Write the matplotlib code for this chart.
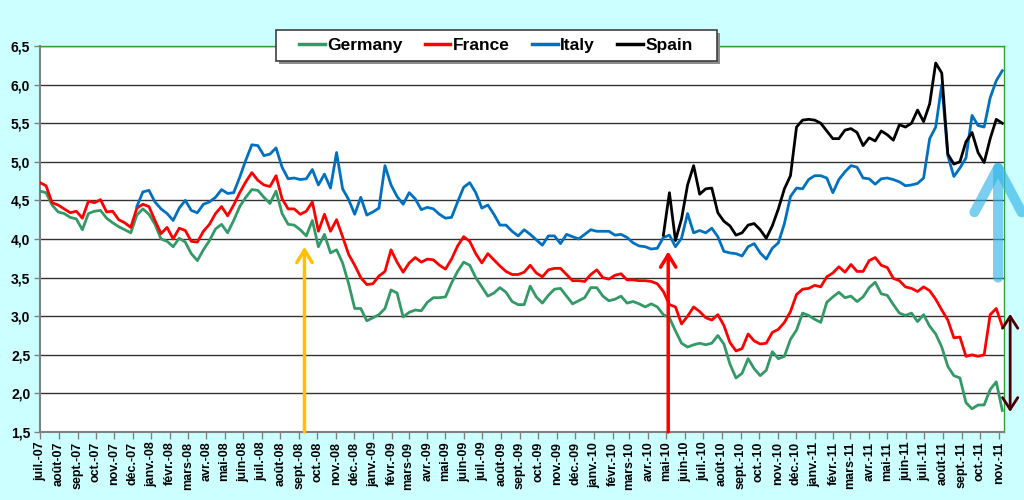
"""
10-year government bond yields: Germany, France, Italy and Spain, July 2007 - November 2011.
"""

import matplotlib
matplotlib.use("Agg")
import matplotlib.pyplot as plt
import matplotlib.dates as mdates
from matplotlib.lines import Line2D
from matplotlib.patches import Rectangle
import pandas as pd

OUTPUT_PATH = "out.png"

# one reading every 10 days, starting 1 July 2007
dates = pd.date_range("2007-07-01", periods=160, freq="10D")
ITALY_START = 16   # Italy series begins early Dec 2007
SPAIN_START = 103  # Spain series begins early May 2010

germany = [
    4.62, 4.60, 4.44, 4.35, 4.33, 4.28, 4.26, 4.12, 4.33, 4.36,
    4.37, 4.27, 4.21, 4.16, 4.12, 4.08, 4.31, 4.39, 4.32, 4.19,
    4.00, 3.97, 3.90, 4.01, 3.96, 3.81, 3.72, 3.86, 3.98, 4.13,
    4.19, 4.08, 4.24, 4.42, 4.54, 4.64, 4.63, 4.54, 4.46, 4.62,
    4.33, 4.19, 4.18, 4.12, 4.04, 4.24, 3.90, 4.06, 3.82, 3.86,
    3.69, 3.42, 3.10, 3.10, 2.94, 2.98, 3.02, 3.10, 3.34, 3.30,
    2.99, 3.05, 3.08, 3.07, 3.18, 3.24, 3.24, 3.25, 3.43, 3.58,
    3.70, 3.66, 3.50, 3.38, 3.26, 3.30, 3.37, 3.31, 3.19, 3.15,
    3.15, 3.39, 3.25, 3.17, 3.27, 3.35, 3.36, 3.26, 3.16, 3.20,
    3.24, 3.37, 3.37, 3.26, 3.20, 3.22, 3.26, 3.17, 3.19, 3.16,
    3.12, 3.16, 3.12, 3.02, 2.98, 2.81, 2.65, 2.60, 2.63, 2.65,
    2.63, 2.65, 2.75, 2.64, 2.38, 2.20, 2.26, 2.45, 2.32, 2.23,
    2.30, 2.54, 2.45, 2.48, 2.70, 2.82, 3.04, 3.01, 2.96, 2.92,
    3.18, 3.25, 3.31, 3.24, 3.26, 3.19, 3.25, 3.37, 3.44, 3.29,
    3.27, 3.15, 3.04, 3.01, 3.04, 2.93, 3.02, 2.87, 2.77, 2.60,
    2.35, 2.23, 2.20, 1.88, 1.80, 1.85, 1.85, 2.05, 2.15, 1.78,
]

france = [
    4.73, 4.69, 4.47, 4.44, 4.39, 4.34, 4.36, 4.27, 4.49, 4.47,
    4.51, 4.35, 4.36, 4.25, 4.21, 4.15, 4.40, 4.45, 4.42, 4.24,
    4.07, 4.15, 4.00, 4.14, 4.11, 3.97, 3.96, 4.10, 4.19, 4.33,
    4.42, 4.30, 4.44, 4.60, 4.74, 4.86, 4.76, 4.70, 4.68, 4.82,
    4.52, 4.39, 4.39, 4.32, 4.36, 4.48, 4.10, 4.32, 4.10, 4.25,
    4.03, 3.80, 3.66, 3.50, 3.41, 3.42, 3.52, 3.58, 3.86, 3.70,
    3.57, 3.69, 3.76, 3.70, 3.74, 3.73, 3.66, 3.61, 3.74, 3.91,
    4.03, 3.97, 3.81, 3.69, 3.81, 3.73, 3.65, 3.58, 3.54, 3.54,
    3.57, 3.66, 3.56, 3.51, 3.60, 3.62, 3.62, 3.54, 3.46, 3.46,
    3.45, 3.54, 3.60, 3.50, 3.48, 3.53, 3.55, 3.47, 3.47, 3.46,
    3.46, 3.45, 3.42, 3.32, 3.15, 3.12, 2.90, 3.00, 3.12, 3.06,
    2.98, 2.95, 3.02, 2.88, 2.66, 2.55, 2.58, 2.77, 2.68, 2.64,
    2.65, 2.79, 2.83, 2.92, 3.06, 3.28, 3.35, 3.36, 3.40, 3.38,
    3.51, 3.56, 3.64, 3.57, 3.67, 3.58, 3.58, 3.72, 3.76, 3.66,
    3.63, 3.49, 3.46, 3.38, 3.36, 3.32, 3.38, 3.33, 3.22, 3.08,
    2.95, 2.72, 2.73, 2.48, 2.50, 2.48, 2.50, 3.02, 3.10, 2.87,
]

italy = [
    4.42, 4.61, 4.63, 4.48, 4.39, 4.33, 4.24, 4.40, 4.50, 4.37,
    4.34, 4.45, 4.48, 4.54, 4.64, 4.59, 4.60, 4.80, 5.02, 5.22,
    5.21, 5.08, 5.10, 5.18, 4.93, 4.78, 4.79, 4.77, 4.78, 4.90,
    4.70, 4.84, 4.66, 5.12, 4.65, 4.51, 4.32, 4.54, 4.31, 4.35,
    4.40, 4.95, 4.70, 4.55, 4.45, 4.60, 4.52, 4.38, 4.41, 4.39,
    4.32, 4.27, 4.28, 4.48, 4.67, 4.73, 4.60, 4.40, 4.44, 4.32,
    4.18, 4.18, 4.10, 4.04, 4.12, 4.06, 3.99, 3.92, 4.04, 4.04,
    3.94, 4.06, 4.03, 4.00, 4.06, 4.12, 4.10, 4.10, 4.10, 4.05,
    4.06, 4.02, 3.95, 3.91, 3.90, 3.87, 3.88, 4.02, 4.05, 3.90,
    4.01, 4.33, 4.08, 4.11, 4.08, 4.14, 4.03, 3.84, 3.82, 3.81,
    3.78, 3.90, 3.94, 3.82, 3.74, 3.88, 3.95, 4.20, 4.55, 4.66,
    4.65, 4.77, 4.82, 4.82, 4.79, 4.60, 4.77, 4.87, 4.95, 4.93,
    4.79, 4.78, 4.71, 4.78, 4.79, 4.77, 4.74, 4.69, 4.70, 4.72,
    4.79, 5.30, 5.45, 6.00, 5.08, 4.81, 4.92, 5.05, 5.60, 5.47,
    5.45, 5.83, 6.05, 6.18,
]

spain = [
    4.05, 4.60, 3.98, 4.26, 4.70, 4.95, 4.58, 4.65, 4.66, 4.34,
    4.23, 4.17, 4.05, 4.08, 4.18, 4.20, 4.12, 4.01, 4.17, 4.39,
    4.65, 4.82, 5.45, 5.54, 5.55, 5.54, 5.50, 5.40, 5.30, 5.30,
    5.41, 5.43, 5.38, 5.21, 5.31, 5.27, 5.40, 5.35, 5.28, 5.48,
    5.45, 5.50, 5.67, 5.52, 5.75, 6.28, 6.15, 5.10, 4.97, 5.00,
    5.26, 5.38, 5.12, 4.99, 5.30, 5.55, 5.50,
]

SERIES = [
    ("Germany", germany, 0, "#339966"),
    ("France", france, 0, "#FF0000"),
    ("Italy", italy, ITALY_START, "#0070C0"),
    ("Spain", spain, SPAIN_START, "#000000"),
]

MONTH_NAMES = ["janv.", "févr.", "mars", "avr.", "mai", "juin",
               "juil.", "août", "sept.", "oct.", "nov.", "déc."]
month_ticks = pd.date_range("2007-07-01", "2011-11-01", freq="MS")
month_labels = [f"{MONTH_NAMES[d.month - 1]}-{d.year % 100:02d}" for d in month_ticks]
y_ticks = [1.5, 2.0, 2.5, 3.0, 3.5, 4.0, 4.5, 5.0, 5.5, 6.0, 6.5]

# annotation arrows: (date, y from, y to)
ARROW_LEHMAN = ("2008-09-10", 1.5, 3.90)
ARROW_GREECE = ("2010-05-04", 1.5, 3.84)
ARROW_ITALY = ("2011-10-31", 3.5, 5.06)
ARROW_SPREAD = ("2011-11-20", 3.03, 1.76)

plt.rcParams["font.family"] = ["Liberation Sans", "DejaVu Sans"]
plt.rcParams["font.weight"] = "bold"

W, H = 1024, 500
fig = plt.figure(figsize=(W / 100, H / 100), dpi=100, facecolor="#CCFFFF")
ax = fig.add_axes([40 / W, 68 / H, 963.5 / W, 386 / H])
ax.set_facecolor("white")

for name, values, start, color in SERIES:
    ax.plot(dates[start:start + len(values)], values, color=color, lw=2.0,
            label=name, zorder=3)

ax.set_xlim(pd.Timestamp("2007-07-01"), pd.Timestamp("2011-11-09"))
ax.set_ylim(1.5, 6.5)
ax.set_yticks(y_ticks)
ax.set_yticklabels([f"{v:.1f}".replace(".", ",") for v in y_ticks],
                   fontsize=10, fontweight="bold")
ax.set_xticks(month_ticks)
ax.set_xticklabels(month_labels, rotation=90, fontsize=9, fontweight="bold")
ax.tick_params(axis="y", direction="out", length=4, width=1, color="#808080", pad=3)
ax.tick_params(axis="x", direction="out", length=5, width=1, color="#808080", pad=2)

ax.yaxis.grid(True, color="#333333", lw=1)
ax.set_axisbelow(True)
for side in ("left", "bottom"):
    ax.spines[side].set_color("#808080")
    ax.spines[side].set_linewidth(1.5)
for side in ("top", "right"):
    ax.spines[side].set_color("#33A033")
    ax.spines[side].set_linewidth(1)


def arrow(spec, style, color, lw, **kw):
    x = mdates.date2num(pd.Timestamp(spec[0]))
    ax.annotate("", xy=(x, spec[2]), xytext=(x, spec[1]),
                arrowprops=dict(arrowstyle=style, color=color, lw=lw,
                                shrinkA=0, shrinkB=0, **kw),
                annotation_clip=False, zorder=5)


arrow(ARROW_LEHMAN, "->,head_length=0.9,head_width=0.55", "#FFC000", 2.5)
arrow(ARROW_GREECE, "->,head_length=0.9,head_width=0.55", "#FF0000", 2.5)
arrow(ARROW_ITALY, "->,head_length=3.2,head_width=1.7", "#33B5E8", 7.2,
      alpha=0.65, capstyle="round", joinstyle="round")
arrow(ARROW_SPREAD, "<->,head_length=0.85,head_width=0.55", "#4A0000", 2.0)

# legend with a boxed frame and drop shadow
shadow = Rectangle((279 / W, 1 - 64 / H), 441 / W, 31 / H, transform=fig.transFigure,
                   facecolor="#8C8C8C", edgecolor="none", zorder=2)
frame = Rectangle((276 / W, 1 - 61 / H), 441 / W, 31 / H, transform=fig.transFigure,
                  facecolor="white", edgecolor="#404040", lw=1.2, zorder=3)
fig.add_artist(shadow)
fig.add_artist(frame)
handles = [Line2D([], [], color=c, lw=2.5) for _, _, _, c in SERIES]
fig.legend(handles, [s[0] for s in SERIES], loc="center",
           bbox_to_anchor=(496 / W, 1 - 45.5 / H), ncol=4, frameon=False,
           prop={"size": 12.5, "weight": "bold"}, handlelength=1.45,
           handletextpad=0.15, columnspacing=1.3)

fig.savefig(OUTPUT_PATH, dpi=100, facecolor=fig.get_facecolor())
